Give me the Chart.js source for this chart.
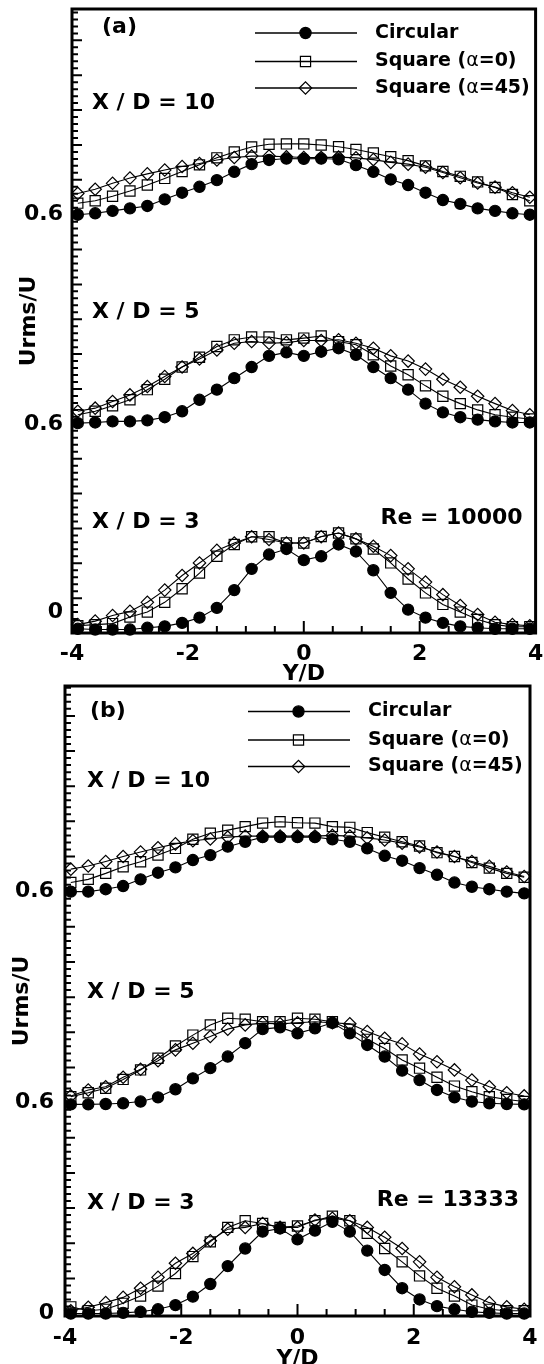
<!DOCTYPE html>
<html><head><meta charset="utf-8">
<script src="https://cdn.jsdelivr.net/npm/chart.js@4.4.0/dist/chart.umd.min.js"></script>
<style>
html,body{margin:0;padding:0;background:#fff;width:544px;height:1364px;overflow:hidden;position:relative;}
canvas{position:absolute;left:0;}
#ca{top:0;} #cb{top:676px;}
</style></head><body>
<canvas id="ca" width="544" height="690"></canvas>
<canvas id="cb" width="544" height="700"></canvas>
<script>
// ---- data ----
const yOverD = [-3.9,-3.6,-3.3,-3.0,-2.7,-2.4,-2.1,-1.8,-1.5,-1.2,-0.9,-0.6,-0.3,0,0.3,0.6,0.9,1.2,1.5,1.8,2.1,2.4,2.7,3.0,3.3,3.6,3.9];
const stationNames = ['X / D = 3','X / D = 5','X / D = 10'];
const stationOffsets = [0, 0.6, 1.2];
const seriesNames = ['Circular','Square (\u03b1=0)','Square (\u03b1=45)'];
const xTickValues = [-4,-2,0,2,4];
const yTickLabels = ['0','0.6','0.6'];
const yTickValuesA = [0.058,0.6,1.2];
const yTickValuesB = [0,0.6,1.2];

// Panel (a), Re = 10000
const a_circ_3  = [0.012,0.010,0.010,0.010,0.015,0.019,0.029,0.044,0.072,0.123,0.184,0.225,0.241,0.209,0.220,0.254,0.234,0.180,0.115,0.067,0.044,0.029,0.019,0.015,0.012,0.012,0.012];
const a_sq0_3   = [0.021,0.024,0.027,0.046,0.060,0.088,0.127,0.172,0.220,0.254,0.276,0.276,0.258,0.258,0.277,0.287,0.270,0.241,0.201,0.155,0.115,0.082,0.060,0.039,0.024,0.018,0.018];
const a_sq45_3  = [0.024,0.034,0.050,0.062,0.088,0.123,0.165,0.201,0.237,0.258,0.276,0.268,0.258,0.258,0.276,0.287,0.270,0.249,0.222,0.184,0.146,0.110,0.079,0.053,0.031,0.024,0.021];
const a_circ_5  = [0.002,0.004,0.007,0.007,0.010,0.019,0.036,0.069,0.098,0.131,0.163,0.195,0.205,0.195,0.207,0.217,0.198,0.163,0.131,0.098,0.058,0.033,0.019,0.012,0.007,0.004,0.004];
const a_sq0_5   = [0.026,0.036,0.052,0.069,0.098,0.128,0.163,0.191,0.222,0.241,0.249,0.249,0.241,0.246,0.252,0.236,0.227,0.198,0.166,0.141,0.109,0.079,0.058,0.040,0.026,0.019,0.014];
const a_sq45_5  = [0.036,0.045,0.064,0.083,0.107,0.136,0.163,0.186,0.212,0.231,0.236,0.231,0.233,0.239,0.239,0.241,0.231,0.217,0.195,0.180,0.157,0.128,0.105,0.079,0.058,0.038,0.026];
const a_circ_10 = [0.000,0.004,0.011,0.018,0.025,0.044,0.063,0.080,0.099,0.123,0.145,0.157,0.161,0.160,0.161,0.159,0.142,0.123,0.101,0.085,0.063,0.042,0.031,0.018,0.011,0.004,0.000];
const a_sq0_10  = [0.033,0.040,0.053,0.068,0.085,0.104,0.124,0.143,0.163,0.180,0.194,0.202,0.203,0.203,0.200,0.195,0.187,0.177,0.166,0.155,0.140,0.124,0.110,0.094,0.078,0.058,0.040];
const a_sq45_10 = [0.061,0.073,0.090,0.105,0.117,0.128,0.138,0.147,0.157,0.164,0.168,0.168,0.166,0.164,0.164,0.165,0.163,0.158,0.150,0.145,0.136,0.121,0.106,0.091,0.079,0.063,0.050];

// Panel (b), Re = 13333
const b_circ_3  = [0.000,0.000,0.000,0.002,0.005,0.012,0.024,0.048,0.084,0.135,0.185,0.233,0.242,0.211,0.236,0.261,0.233,0.179,0.124,0.072,0.040,0.021,0.012,0.005,0.002,0.000,0.000];
const b_sq0_3   = [0.019,0.008,0.012,0.029,0.050,0.078,0.114,0.162,0.204,0.245,0.264,0.256,0.245,0.249,0.264,0.277,0.264,0.228,0.185,0.147,0.107,0.072,0.050,0.024,0.012,0.008,0.008];
const b_sq45_3  = [0.008,0.018,0.031,0.046,0.072,0.103,0.143,0.171,0.207,0.240,0.245,0.256,0.245,0.245,0.266,0.271,0.264,0.245,0.217,0.185,0.147,0.103,0.076,0.053,0.031,0.019,0.012];
const b_circ_5  = [-0.005,-0.005,-0.004,-0.002,0.003,0.015,0.038,0.069,0.098,0.131,0.169,0.209,0.214,0.197,0.211,0.227,0.197,0.164,0.131,0.091,0.064,0.036,0.015,0.003,-0.002,-0.004,-0.005];
const b_sq0_5   = [0.017,0.028,0.041,0.066,0.093,0.126,0.161,0.192,0.221,0.240,0.237,0.230,0.230,0.240,0.237,0.230,0.209,0.180,0.154,0.121,0.098,0.072,0.047,0.031,0.017,0.009,0.003];
const b_sq45_5  = [0.019,0.036,0.045,0.072,0.095,0.119,0.150,0.169,0.188,0.209,0.221,0.226,0.224,0.227,0.230,0.227,0.224,0.202,0.183,0.167,0.138,0.116,0.093,0.064,0.045,0.028,0.019];
const b_circ_10 = [0.000,0.000,0.007,0.016,0.035,0.054,0.069,0.090,0.104,0.128,0.142,0.155,0.155,0.155,0.155,0.149,0.142,0.123,0.102,0.088,0.067,0.048,0.026,0.014,0.007,0.000,-0.005];
const b_sq0_10  = [0.026,0.035,0.052,0.071,0.085,0.104,0.123,0.149,0.166,0.175,0.185,0.195,0.199,0.196,0.195,0.185,0.183,0.168,0.155,0.142,0.130,0.111,0.100,0.083,0.067,0.052,0.041];
const b_sq45_10 = [0.064,0.073,0.086,0.100,0.113,0.125,0.136,0.145,0.150,0.155,0.158,0.158,0.158,0.158,0.158,0.160,0.158,0.153,0.147,0.138,0.127,0.113,0.100,0.086,0.072,0.056,0.043];

// ---- styles / layout ----
const FONT = '"DejaVu Sans", "Liberation Sans", Arial, sans-serif';
const markerStyles = [
  {pointStyle:'circle', radius:5.6, fill:'#000'},
  {pointStyle:'rect', radius:7.2, fill:'rgba(0,0,0,0)'},
  {pointStyle:'rectRot', radius:6.2, fill:'rgba(0,0,0,0)'}
];

const panels = [
  {canvas:'ca', tag:'(a)', re:'Re = 10000',
   series:[[a_circ_3,a_sq0_3,a_sq45_3],[a_circ_5,a_sq0_5,a_sq45_5],[a_circ_10,a_sq0_10,a_sq45_10]],
   yMin:0, yMax:1.79, yTicks:yTickValuesA,
   pad:{top:9,right:7,left:0,bottom:0}, yW:72, xH:57, xPad:8, xTitlePad:3, yPad:9, yTitlePad:16,
   tagDX:30, tagDY:18, stDX:20, stDV:0.319, reDX:13, reV:0.329, legRows:[24,52.5,79]},
  {canvas:'cb', tag:'(b)', re:'Re = 13333',
   series:[[b_circ_3,b_sq0_3,b_sq45_3],[b_circ_5,b_sq0_5,b_sq45_5],[b_circ_10,b_sq0_10,b_sq45_10]],
   yMin:-0.007, yMax:1.785, yTicks:yTickValuesB,
   pad:{top:10,right:14,left:0,bottom:0}, yW:65, xH:60, xPad:9, xTitlePad:4, yPad:11, yTitlePad:9,
   tagDX:25, tagDY:25, stDX:22, stDV:0.314, reDX:11, reV:0.323, legRows:[25.5,54,80.5]}
];

function drawMarker(ctx, style, x, y){
  const r = style.radius;
  ctx.beginPath();
  if (style.pointStyle==='circle'){ ctx.arc(x,y,r,0,Math.PI*2); }
  else if (style.pointStyle==='rect'){ const s=r*Math.SQRT1_2; ctx.rect(x-s,y-s,2*s,2*s); }
  else { ctx.moveTo(x-r,y); ctx.lineTo(x,y-r); ctx.lineTo(x+r,y); ctx.lineTo(x,y+r); ctx.closePath(); }
  ctx.fillStyle = style.fill; ctx.fill();
  ctx.lineWidth = 1.2; ctx.strokeStyle='#000'; ctx.stroke();
}

const decor = {
  id:'decor',
  afterDraw(chart, args, opts){
    const P = opts.panel;
    const {ctx, chartArea:a} = chart;
    const x = chart.scales.x, y = chart.scales.y;
    ctx.save();
    // inward tick marks
    ctx.strokeStyle='#000'; ctx.lineWidth=2;
    ctx.beginPath();
    for (let k=-8;k<=8;k++){
      const v=k*0.5, px=x.getPixelForValue(v);
      const len = (k%4===0)?12:7;
      ctx.moveTo(px,a.bottom); ctx.lineTo(px,a.bottom-len);
    }
    for (let k=0;k<=90;k++){
      const v=k*0.02; if (v<y.min||v>y.max) continue;
      const py=y.getPixelForValue(v);
      const len=(k%5===0)?10:6;
      ctx.moveTo(a.left,py); ctx.lineTo(a.left+len,py);
    }
    ctx.stroke();
    // frame
    ctx.lineWidth=3;
    ctx.strokeRect(a.left,a.top,a.right-a.left,a.bottom-a.top);
    // annotations
    ctx.fillStyle='#000';
    ctx.textBaseline='middle';
    ctx.font='bold 22px '+FONT;
    ctx.textAlign='left';
    ctx.fillText(P.tag, a.left+P.tagDX, a.top+P.tagDY);
    for (let st=0;st<3;st++){
      ctx.fillText(stationNames[st], a.left+P.stDX, y.getPixelForValue(stationOffsets[st]+P.stDV));
    }
    ctx.textAlign='right';
    ctx.fillText(P.re, a.right-P.reDX, y.getPixelForValue(P.reV));
    // legend
    for (let s=0;s<3;s++){
      const ry = a.top + P.legRows[s];
      ctx.beginPath(); ctx.lineWidth=1.3; ctx.strokeStyle='#000';
      ctx.moveTo(a.left+183, ry); ctx.lineTo(a.left+285, ry); ctx.stroke();
      drawMarker(ctx, markerStyles[s], a.left+233.5, ry);
      ctx.fillStyle='#000'; ctx.textAlign='left';
      let tx = a.left+303;
      const parts = seriesNames[s].split('\u03b1');
      parts.forEach((p,i)=>{
        if (i>0){ ctx.font='19px '+FONT; ctx.fillText('\u03b1', tx, ry); tx += ctx.measureText('\u03b1').width; }
        ctx.font='bold 19px '+FONT; ctx.fillText(p, tx, ry); tx += ctx.measureText(p).width;
      });
    }
    ctx.restore();
  }
};

function makeChart(P){
  const datasets=[];
  for (let s=0;s<3;s++){
    for (let st=0;st<3;st++){
      const vals = P.series[st][s];
      datasets.push({
        label: seriesNames[s]+' '+stationNames[st],
        data: yOverD.map((xv,i)=>({x:xv, y: vals[i]+stationOffsets[st]})),
        borderColor:'#000', borderWidth:1.1, tension:0, fill:false, clip:false,
        pointStyle: markerStyles[s].pointStyle, pointRadius: markerStyles[s].radius,
        pointBackgroundColor: markerStyles[s].fill, pointBorderColor:'#000', pointBorderWidth:1.2
      });
    }
  }
  const tickFont = {family:FONT, size:22, weight:'bold'};
  return new Chart(document.getElementById(P.canvas), {
    type:'line',
    data:{datasets},
    options:{
      responsive:false, animation:false, events:[],
      layout:{padding:P.pad},
      plugins:{legend:{display:false}, tooltip:{enabled:false}, decor:{panel:P}},
      scales:{
        x:{type:'linear', min:-4, max:4,
           afterBuildTicks:(s)=>{ s.ticks = xTickValues.map(v=>({value:v})); },
           ticks:{padding:P.xPad, color:'#000', font:tickFont, autoSkip:false, maxRotation:0, callback:(v)=>String(v)},
           grid:{display:false, drawTicks:false}, border:{display:false},
           title:{display:true, text:'Y/D', color:'#000', font:tickFont, padding:{top:0,bottom:P.xTitlePad}},
           afterFit:(s)=>{ s.height=P.xH; s.paddingLeft=0; s.paddingRight=0; }},
        y:{type:'linear', min:P.yMin, max:P.yMax,
           afterBuildTicks:(s)=>{ s.ticks = P.yTicks.map(v=>({value:v})); },
           ticks:{padding:P.yPad, color:'#000', font:tickFont, autoSkip:false, callback:(v,i)=>yTickLabels[i]},
           grid:{display:false, drawTicks:false}, border:{display:false},
           title:{display:true, text:'Urms/U', color:'#000', font:tickFont, padding:{top:P.yTitlePad,bottom:0}},
           afterFit:(s)=>{ s.width=P.yW; s.paddingTop=0; s.paddingBottom=0; }}
      }
    },
    plugins:[decor]
  });
}
panels.forEach(makeChart);
</script>
</body></html>
